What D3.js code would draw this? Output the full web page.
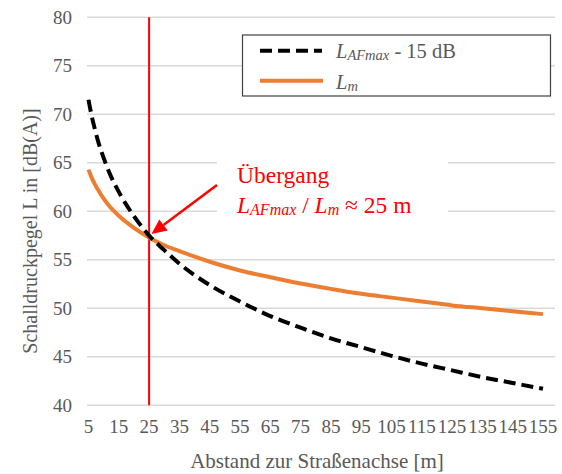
<!DOCTYPE html>
<html>
<head>
<meta charset="utf-8">
<script src="https://cdn.jsdelivr.net/npm/d3@7"></script>
<style>
  body { margin: 0; background: #fff; }
  svg { display: block; }
</style>
</head>
<body>
<svg id="chart" width="562" height="474"></svg>
<script>
"use strict";
const distances = [5, 6, 7, 8, 10, 12, 15, 20, 25, 30, 35, 45, 55, 65, 75, 85, 95, 105, 115, 125, 135, 145, 155];
const lafMax = [71.5, 69.9, 68.6, 67.4, 65.5, 63.9, 62.0, 59.5, 57.5, 56.0, 54.6, 52.4, 50.7, 49.2, 48.0, 46.9, 46.0, 45.1, 44.3, 43.6, 42.9, 42.3, 41.7];
const lm = [64.3, 63.5, 62.85, 62.3, 61.3, 60.5, 59.55, 58.3, 57.3, 56.5, 55.9, 54.8, 53.9, 53.2, 52.55, 52.0, 51.5, 51.1, 50.7, 50.3, 50.0, 49.7, 49.4];
const xTicks = [5, 15, 25, 35, 45, 55, 65, 75, 85, 95, 105, 115, 125, 135, 145, 155];
const yTicks = [40, 45, 50, 55, 60, 65, 70, 75, 80];
const transitionAt = 25;

const serif = "'Liberation Serif', 'Times New Roman', serif";
const svg = d3.select("#chart");
const x = d3.scaleLinear().domain([5, 155]).range([88.5, 543]);
const y = d3.scaleLinear().domain([40, 80]).range([405.3, 17.3]);
const gridLeft = 87, gridRight = 555;
const grey = "#595959";

// every text needs the font set on itself
function label(sel, size, fill) {
    return sel.style("font-family", serif).attr("font-size", size).attr("fill", fill);
}

// gridlines + y labels
const yAxis = svg.append("g");
yAxis.selectAll("line").data(yTicks).join("line")
    .attr("x1", gridLeft).attr("x2", gridRight)
    .attr("y1", d => y(d)).attr("y2", d => y(d))
    .attr("stroke", "#d9d9d9").attr("stroke-width", 1.5);
label(yAxis.selectAll("text").data(yTicks).join("text"), 19, grey)
    .attr("x", 72).attr("y", d => y(d) + 6.5)
    .attr("text-anchor", "end")
    .text(d => d);

// x labels
label(svg.append("g").selectAll("text").data(xTicks).join("text"), 19, grey)
    .attr("x", d => x(d)).attr("y", 433)
    .attr("text-anchor", "middle")
    .text(d => d);

label(svg.append("text"), 21, grey)
    .attr("x", 317).attr("y", 468)
    .attr("text-anchor", "middle")
    .text("Abstand zur Straßenachse [m]");
label(svg.append("text"), 20, grey)
    .attr("transform", "translate(37,231) rotate(-90)")
    .attr("text-anchor", "middle")
    .text("Schalldruckpegel L in [dB(A)]");

// vertical marker
svg.append("line")
    .attr("x1", x(transitionAt)).attr("x2", x(transitionAt))
    .attr("y1", y(80)).attr("y2", y(40))
    .attr("stroke", "#ff0000").attr("stroke-width", 2);

const line = d3.line().curve(d3.curveMonotoneX);
svg.append("path")
    .attr("d", line(distances.map((d, i) => [x(d), y(lm[i])])))
    .attr("fill", "none").attr("stroke", "#ed7d31").attr("stroke-width", 4);
svg.append("path")
    .attr("d", line(distances.map((d, i) => [x(d), y(lafMax[i])])))
    .attr("fill", "none").attr("stroke", "#000").attr("stroke-width", 4)
    .attr("stroke-dasharray", "12,6");

// annotation box covers the gridlines behind it
svg.append("rect")
    .attr("x", 217).attr("y", 135).attr("width", 231).attr("height", 100)
    .attr("fill", "#fff");
label(svg.append("text"), 23.5, "#ff0000")
    .attr("x", 237).attr("y", 183).text("Übergang");
const ann2 = label(svg.append("text"), 23.5, "#ff0000").attr("x", 237).attr("y", 213);
ann2.append("tspan").attr("font-style", "italic").text("L");
ann2.append("tspan").attr("font-style", "italic").attr("font-size", 16).attr("dy", 2).text("AFmax");
ann2.append("tspan").attr("dy", -2).text(" / ");
ann2.append("tspan").attr("font-style", "italic").text("L");
ann2.append("tspan").attr("font-style", "italic").attr("font-size", 16).attr("dy", 2).text("m");
ann2.append("tspan").attr("dy", -2).text(" ≈ 25 m");

// arrow
const tip = [151.5, 234], tail = [217, 185];
const ang = Math.atan2(tip[1] - tail[1], tip[0] - tail[0]);
const headLen = 15, headHalf = 7;
const base = [tip[0] - headLen * Math.cos(ang), tip[1] - headLen * Math.sin(ang)];
svg.append("line")
    .attr("x1", tail[0]).attr("y1", tail[1]).attr("x2", base[0]).attr("y2", base[1])
    .attr("stroke", "#ff0000").attr("stroke-width", 2.5);
svg.append("path")
    .attr("d", "M" + tip[0] + "," + tip[1] +
        " L" + (base[0] + headHalf * Math.sin(ang)) + "," + (base[1] - headHalf * Math.cos(ang)) +
        " L" + (base[0] - headHalf * Math.sin(ang)) + "," + (base[1] + headHalf * Math.cos(ang)) + "Z")
    .attr("fill", "#ff0000");

// legend
const legend = svg.append("g");
legend.append("rect")
    .attr("x", 242.5).attr("y", 35).attr("width", 308).attr("height", 61)
    .attr("fill", "#fff").attr("stroke", "#404040").attr("stroke-width", 1.2);
legend.append("line")
    .attr("x1", 260).attr("x2", 322).attr("y1", 50.7).attr("y2", 50.7)
    .attr("stroke", "#000").attr("stroke-width", 4).attr("stroke-dasharray", "12,6");
legend.append("line")
    .attr("x1", 260).attr("x2", 323).attr("y1", 80.7).attr("y2", 80.7)
    .attr("stroke", "#ed7d31").attr("stroke-width", 4);
const l1 = label(legend.append("text"), 20.5, grey).attr("x", 336).attr("y", 58);
l1.append("tspan").attr("font-style", "italic").text("L");
l1.append("tspan").attr("font-style", "italic").attr("font-size", 14.5).attr("dy", 2).text("AFmax");
l1.append("tspan").attr("dy", -2).text(" - 15 dB");
const l2 = label(legend.append("text"), 20.5, grey).attr("x", 336).attr("y", 89);
l2.append("tspan").attr("font-style", "italic").text("L");
l2.append("tspan").attr("font-style", "italic").attr("font-size", 14.5).attr("dy", 2).text("m");
</script>
</body>
</html>
